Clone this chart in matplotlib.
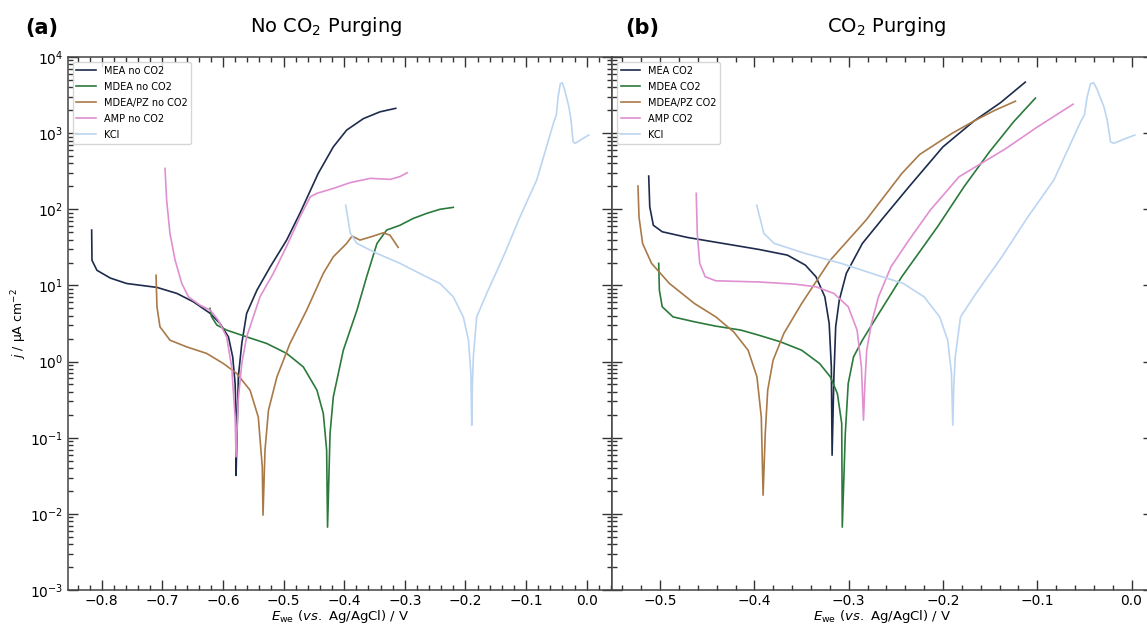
import matplotlib.pyplot as plt
from matplotlib.ticker import MultipleLocator, LogLocator, NullFormatter

# ---- (a) no CO2 purging: potential (V vs Ag/AgCl) and current density (uA cm-2)
mea_a_E = [-0.8167, -0.8162, -0.808, -0.786, -0.759, -0.709, -0.676, -0.649, -0.621, -0.605,
           -0.591, -0.584, -0.580, -0.5785, -0.5785, -0.5770, -0.5747, -0.569, -0.561, -0.544,
           -0.522, -0.495, -0.473, -0.443, -0.418, -0.396, -0.3685, -0.341, -0.315]
mea_a_j = [53.3, 21.4, 15.8, 12.5, 10.6, 9.42, 7.85, 6.10, 4.29, 3.16,
           2.11, 1.15, 0.515, 0.187, 0.032, 0.10, 0.63, 1.73, 4.29, 8.67,
           17.6, 39.4, 89.0, 295, 661, 1096, 1549, 1905, 2118]

mdea_a_E = [-0.6215, -0.619, -0.610, -0.594, -0.561, -0.528, -0.495, -0.4675, -0.445, -0.4345,
            -0.429, -0.4275, -0.4234, -0.418, -0.4015, -0.379, -0.363, -0.346, -0.330, -0.308,
            -0.286, -0.264, -0.242, -0.220]
mdea_a_j = [4.99, 3.89, 3.01, 2.59, 2.11, 1.73, 1.28, 0.851, 0.421, 0.208,
            0.0686, 0.0067, 0.1135, 0.344, 1.41, 4.73, 13.0, 35.5, 53.3, 61.7,
            75.9, 88.3, 100, 106]

pz_a_E = [-0.7105, -0.709, -0.704, -0.6875, -0.660, -0.627, -0.5995, -0.5774, -0.5554, -0.5418,
          -0.5352, -0.534, -0.5307, -0.525, -0.511, -0.4895, -0.462, -0.4345, -0.418, -0.396,
          -0.387, -0.374, -0.352, -0.3355, -0.3245, -0.311]
pz_a_j = [13.6, 5.25, 2.86, 1.91, 1.56, 1.28, 0.944, 0.698, 0.421, 0.187,
          0.0413, 0.0096, 0.0686, 0.229, 0.631, 1.73, 4.73, 14.4, 23.8, 35.6,
          44.5, 39.4, 44.5, 49.1, 45.7, 31.6]

amp_a_E = [-0.6957, -0.693, -0.6875, -0.679, -0.668, -0.657, -0.638, -0.621, -0.608, -0.594,
           -0.5857, -0.580, -0.5785, -0.5765, -0.575, -0.569, -0.561, -0.539, -0.517, -0.4955,
           -0.473, -0.456, -0.445, -0.418, -0.390, -0.357, -0.324, -0.308, -0.296]
amp_a_j = [344, 132, 47.9, 21.4, 10.6, 7.08, 5.51, 4.73, 3.50, 2.11,
           0.851, 0.187, 0.056, 0.158, 0.311, 0.944, 2.11, 7.08, 14.4, 32.1,
           79.4, 146, 162, 188, 224, 255, 247, 269, 302]

kcl_E = [-0.3975, -0.390, -0.379, -0.346, -0.308, -0.2695, -0.242, -0.220, -0.2035, -0.195,
         -0.191, -0.1896, -0.1885, -0.187, -0.1814, -0.165, -0.1375, -0.110, -0.0824, -0.054,
         -0.050, -0.047, -0.0435, -0.040, -0.0364, -0.0294, -0.0258, -0.0223, -0.0188, -0.0082,
         0.0035]
kcl_j = [113, 48.2, 35.6, 26.3, 19.5, 13.6, 10.6, 7.08, 3.86, 1.91,
         0.698, 0.146, 0.50, 1.15, 3.86, 7.85, 23.8, 79.4, 242, 1413,
         1738, 3020, 4467, 4571, 3715, 2239, 1479, 771, 735, 832,
         944]

# ---- (b) CO2 purging
mea_b_E = [-0.5121, -0.511, -0.5072, -0.4978, -0.4712, -0.4332, -0.3953, -0.365, -0.346, -0.3347,
           -0.3253, -0.3207, -0.3184, -0.3176, -0.3157, -0.3138, -0.310, -0.3025, -0.2855, -0.2626,
           -0.236, -0.200, -0.167, -0.139, -0.1127]
mea_b_j = [273, 108, 61.7, 50.7, 42.7, 35.6, 29.7, 25.0, 18.5, 13.0,
           7.08, 3.16, 0.851, 0.059, 0.631, 2.86, 6.41, 14.4, 35.6, 79.4,
           198, 661, 1445, 2512, 4677]

mdea_b_E = [-0.5015, -0.5008, -0.4978, -0.4863, -0.4636, -0.4409, -0.4143, -0.3953, -0.3726, -0.3499,
            -0.3309, -0.3195, -0.312, -0.3074, -0.3068, -0.3036, -0.3005, -0.2949, -0.2855, -0.2703,
            -0.2437, -0.2058, -0.1774, -0.151, -0.125, -0.102]
mdea_b_j = [19.5, 8.67, 5.25, 3.86, 3.33, 2.92, 2.59, 2.22, 1.82, 1.41,
            0.944, 0.631, 0.380, 0.154, 0.0067, 0.1135, 0.515, 1.15, 1.91, 3.86,
            13.0, 58.9, 200, 562, 1413, 2884]

pz_b_E = [-0.5235, -0.5224, -0.5186, -0.5091, -0.4901, -0.4636, -0.4409, -0.4219, -0.4067, -0.3973,
          -0.3927, -0.3908, -0.3885, -0.3859, -0.3802, -0.3688, -0.3499, -0.3195, -0.2816, -0.2437,
          -0.2247, -0.190, -0.167, -0.145, -0.1231]
pz_b_j = [202, 79.4, 35.6, 19.5, 10.6, 5.79, 3.86, 2.45, 1.41, 0.631,
          0.187, 0.0176, 0.1135, 0.421, 1.04, 2.34, 5.79, 21.5, 72.1, 295,
          525, 1000, 1445, 1995, 2630]

amp_b_E = [-0.4617, -0.4606, -0.458, -0.4522, -0.4409, -0.3953, -0.3574, -0.3347, -0.3157, -0.3005,
           -0.2911, -0.2865, -0.2843, -0.2828, -0.2809, -0.2759, -0.2684, -0.2551, -0.2361, -0.2134,
           -0.183, -0.133, -0.100, -0.062]
amp_b_j = [162, 48.2, 19.5, 13.0, 11.5, 11.1, 10.4, 9.6, 7.85, 5.25,
           2.59, 0.851, 0.17, 0.515, 1.41, 3.16, 7.08, 17.6, 39.4, 97.7,
           267, 631, 1202, 2399]

colors = {'MEA': '#1d2b4c', 'MDEA': '#2b7a3b', 'PZ': '#a97a48', 'AMP': '#e08fd0', 'KCl': '#bcd5f1'}

fig = plt.figure(figsize=(11.47, 6.25), dpi=100)
ax_a = fig.add_axes([0.059, 0.056, 0.4746, 0.8528])
ax_b = fig.add_axes([0.5336, 0.056, 0.4720, 0.8528])

lw = 1.2
ax_a.plot(mea_a_E, mea_a_j, color=colors['MEA'], lw=lw, label='MEA no CO2')
ax_a.plot(mdea_a_E, mdea_a_j, color=colors['MDEA'], lw=lw, label='MDEA no CO2')
ax_a.plot(pz_a_E, pz_a_j, color=colors['PZ'], lw=lw, label='MDEA/PZ no CO2')
ax_a.plot(amp_a_E, amp_a_j, color=colors['AMP'], lw=lw, label='AMP no CO2')
ax_a.plot(kcl_E, kcl_j, color=colors['KCl'], lw=lw, label='KCl')

ax_b.plot(mea_b_E, mea_b_j, color=colors['MEA'], lw=lw, label='MEA CO2')
ax_b.plot(mdea_b_E, mdea_b_j, color=colors['MDEA'], lw=lw, label='MDEA CO2')
ax_b.plot(pz_b_E, pz_b_j, color=colors['PZ'], lw=lw, label='MDEA/PZ CO2')
ax_b.plot(amp_b_E, amp_b_j, color=colors['AMP'], lw=lw, label='AMP CO2')
ax_b.plot(kcl_E, kcl_j, color=colors['KCl'], lw=lw, label='KCl')

for ax in (ax_a, ax_b):
    ax.set_yscale('log')
    ax.set_ylim(1e-3, 1e4)
    ax.xaxis.set_major_locator(MultipleLocator(0.1))
    ax.xaxis.set_minor_locator(MultipleLocator(0.02))
    ax.yaxis.set_major_locator(LogLocator(base=10, numticks=20))
    ax.yaxis.set_minor_locator(LogLocator(base=10, subs=range(2, 10), numticks=20))
    ax.yaxis.set_minor_formatter(NullFormatter())
    ax.tick_params(which='both', direction='in', top=True, right=True, colors='#333333',
                   labelcolor='black', labelsize=10, width=1, pad=3)
    ax.tick_params(which='major', length=7)
    ax.tick_params(which='minor', length=3.5)
    for sp in ax.spines.values():
        sp.set_color('#444444')
        sp.set_linewidth(1.1)
    ax.set_xlabel(r'$E_{\mathrm{we}}$ ($vs.$ Ag/AgCl) / V', fontsize=9.5, labelpad=0)
    ax.legend(loc='upper left', fontsize=7, borderaxespad=0.5, labelspacing=0.62,
              edgecolor='#cccccc')

ax_a.set_xlim(-0.8563, 0.0419)
ax_b.set_xlim(-0.551, 0.0232)
ax_b.tick_params(labelleft=False)
ax_a.set_ylabel(r'$j$ / µA cm$^{-2}$', fontsize=9, labelpad=1)

fig.text(0.284, 0.957, r'No CO$_2$ Purging', fontsize=14, ha='center', va='center')
fig.text(0.773, 0.957, r'CO$_2$ Purging', fontsize=14, ha='center', va='center')
fig.text(0.036, 0.955, '(a)', fontsize=15, fontweight='bold', ha='center', va='center')
fig.text(0.560, 0.955, '(b)', fontsize=15, fontweight='bold', ha='center', va='center')

fig.savefig('out.png', dpi=100)
